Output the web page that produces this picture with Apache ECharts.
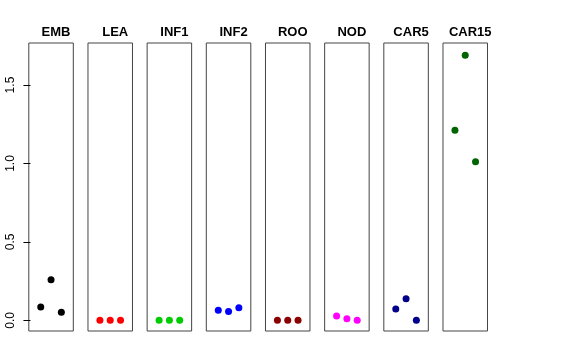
<!DOCTYPE html>
<html><head><meta charset="utf-8">
<script src="https://cdn.jsdelivr.net/npm/echarts@6/dist/echarts.min.js"></script>
<style>html,body{margin:0;padding:0;background:#fff}#c{width:576px;height:360px}</style>
</head><body><div id="c"></div>
<script>
var panels = ['EMB','LEA','INF1','INF2','ROO','NOD','CAR5','CAR15'];
var colors = ['#000000','#FF0000','#00CD00','#0000FF','#8B0000','#FF00FF','#00008B','#006400'];
var EMB = [0.085, 0.259, 0.051];
var LEA = [0, 0, 0];
var INF1 = [0, 0, 0];
var INF2 = [0.064, 0.057, 0.080];
var ROO = [0, 0, 0];
var NOD = [0.027, 0.010, 0.000];
var CAR5 = [0.072, 0.138, 0.000];
var CAR15 = [1.212, 1.690, 1.011];
var values = [EMB, LEA, INF1, INF2, ROO, NOD, CAR5, CAR15];
var yTicks = [0, 0.5, 1.0, 1.5];

var chart = echarts.init(document.getElementById('c'), null, {renderer:'canvas'});
var grids=[], xAxes=[], yAxes=[], series=[], titles=[];
var yMin = -0.068, yMax = 1.768;
panels.forEach(function(p, i){
  var left = 28.8 + 59.17*i;
  grids.push({left:left, top:43, width:44.5, height:288, show:true, borderColor:'#444', borderWidth:1, backgroundColor:'transparent'});
  xAxes.push({type:'value', gridIndex:i, min:-0.16, max:4.16, show:false});
  yAxes.push({type:'value', gridIndex:i, min:yMin, max:yMax, show:i===0,
    splitLine:{show:false}, axisLine:{show:false},
    axisTick:{show:true, length:7, inside:false, customValues:yTicks, lineStyle:{color:'#000'}},
    axisLabel:{show:true, rotate:90, margin:12, customValues:yTicks, fontSize:12, color:'#000', fontFamily:'Liberation Sans, Arial, sans-serif',
      formatter:function(v){return v.toFixed(1);}}
  });
  series.push({type:'scatter', xAxisIndex:i, yAxisIndex:i, symbol:'circle', symbolSize:7,
    itemStyle:{color:colors[i], opacity:1}, data: values[i].map(function(v,j){return [j+1, v];}), silent:true});
  titles.push({text:p, left:left+22.25, top:21, textAlign:'center',
    textStyle:{fontSize:13, fontWeight:'bold', color:'#000', fontFamily:'Liberation Sans, Arial, sans-serif'}});
});
chart.setOption({animation:false, title:titles, grid:grids, xAxis:xAxes, yAxis:yAxes, series:series});
</script></body></html>
